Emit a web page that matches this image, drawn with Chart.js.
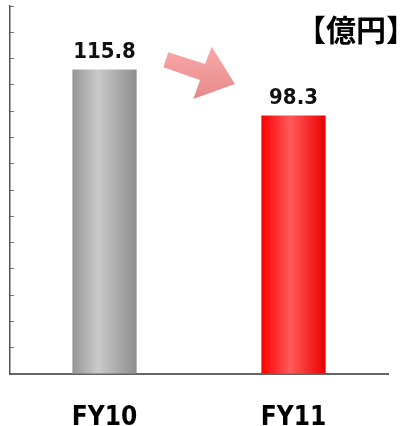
<!DOCTYPE html>
<html>
<head>
<meta charset="utf-8">
<script src="https://cdn.jsdelivr.net/npm/chart.js@4.4.1/dist/chart.umd.min.js"></script>
<style>
    html, body { margin: 0; padding: 0; background: #fff; }
    #wrap { width: 407px; height: 426px; position: relative; }
</style>
</head>
<body>
<div id="wrap"><canvas id="sales-chart"></canvas></div>
<script>
// Chart data
const categories = ['FY10', 'FY11'];
const salesValues = [115.8, 98.3];
const unitLabel = '【億円】';
const yMax = 140;
const yStep = 10;

const NARROW_FONT = '"DejaVu Sans Condensed", "Liberation Sans Narrow", "Noto Sans", sans-serif';

// Horizontal gradient per bar (gray for FY10, red for FY11)
const barStops = [
    [[0, '#959595'], [0.4, '#cacaca'], [1, '#8e8e8e']],
    [[0, '#ff0000'], [0.45, '#ff5a5a'], [1, '#ea0000']]
];

function barGradient(context) {
    const chart = context.chart;
    const xScale = chart.scales.x;
    if (!chart.chartArea || !xScale) return barStops[context.dataIndex][0][1];
    const center = xScale.getPixelForValue(context.dataIndex);
    const half = xScale.width / categories.length * 0.34 / 2;
    const g = chart.ctx.createLinearGradient(center - half, 0, center + half, 0);
    barStops[context.dataIndex].forEach(s => g.addColorStop(s[0], s[1]));
    return g;
}

// Value labels above the bars + unit text + decorative arrow
const overlayPlugin = {
    id: 'overlay',
    afterDatasetsDraw(chart) {
        const ctx = chart.ctx;
        const meta = chart.getDatasetMeta(0);

        ctx.save();
        ctx.fillStyle = '#111';
        ctx.font = 'bold 22px ' + NARROW_FONT;
        ctx.textAlign = 'center';
        ctx.textBaseline = 'alphabetic';
        meta.data.forEach((bar, i) => {
            ctx.fillText(salesValues[i].toFixed(1), bar.x, bar.y - 11.5);
        });

        // unit
        ctx.fillStyle = '#000';
        ctx.font = 'bold 30px "Noto Sans CJK JP", sans-serif';
        ctx.textAlign = 'left';
        ctx.textBaseline = 'middle';
        ctx.fillText(unitLabel, 296, 30);

        // pink arrow between the bars
        const pts = [[168.3, 52.3], [205, 64], [211.7, 46.7], [235, 84], [193.3, 99], [200, 80], [163.3, 67.3]];
        const g = ctx.createLinearGradient(0, 46, 0, 99);
        g.addColorStop(0, '#f9a9a9');
        g.addColorStop(1, '#e68a8a');
        ctx.beginPath();
        pts.forEach((p, i) => i ? ctx.lineTo(p[0], p[1]) : ctx.moveTo(p[0], p[1]));
        ctx.closePath();
        ctx.fillStyle = g;
        ctx.fill();
        ctx.restore();
    }
};

document.addEventListener('DOMContentLoaded', () => {
    const ctx = document.getElementById('sales-chart').getContext('2d');
    new Chart(ctx, {
        type: 'bar',
        data: {
            labels: categories,
            datasets: [{
                label: 'Sales',
                data: salesValues,
                backgroundColor: barGradient,
                borderWidth: 0,
                categoryPercentage: 1,
                barPercentage: 0.34
            }]
        },
        options: {
            responsive: true,
            maintainAspectRatio: false,
            animation: false,
            layout: { padding: { top: 6, right: 19, left: 0, bottom: 0 } },
            plugins: {
                legend: { display: false },
                tooltip: { enabled: false }
            },
            scales: {
                x: {
                    grid: { display: false },
                    border: { display: true, color: '#666', width: 2 },
                    ticks: {
                        color: '#000',
                        padding: 21,
                        font: { size: 26, weight: 'bold', family: NARROW_FONT }
                    },
                    afterFit: scale => { scale.height = 52; }
                },
                y: {
                    min: 0,
                    max: yMax,
                    grid: {
                        display: true,
                        drawOnChartArea: false,
                        drawTicks: true,
                        tickLength: -4,
                        tickColor: '#777',
                        lineWidth: 1
                    },
                    border: { display: true, color: '#555', width: 1.5 },
                    ticks: { display: false, stepSize: yStep },
                    afterFit: scale => { scale.width = 10; }
                }
            }
        },
        plugins: [overlayPlugin]
    });
});
</script>
</body>
</html>
